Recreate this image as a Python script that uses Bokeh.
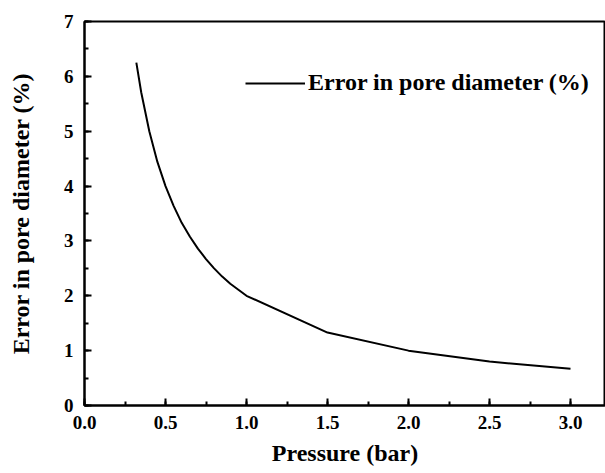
from bokeh.plotting import figure
from bokeh.models import SingleIntervalTicker, Range1d, Legend, LegendItem, ColumnDataSource, CustomJSTickFormatter
from bokeh.embed import file_html
from bokeh.resources import INLINE

pressure = [0.32, 0.35, 0.4, 0.45, 0.5, 0.55, 0.6, 0.65, 0.7, 0.75, 0.8, 0.85, 0.9, 0.95, 1.0,
            1.5, 2.0, 2.5, 3.0]
error_pct = [6.25, 5.71, 5.0, 4.44, 4.0, 3.64, 3.33, 3.08, 2.86, 2.67, 2.5, 2.35, 2.22, 2.11, 2.0,
             1.33, 1.0, 0.8, 0.67]
series_name = "Error in pore diameter (%)"
x_label = "Pressure (bar)"
y_label = "Error in pore diameter (%)"

FONT = "Liberation Serif"

p = figure(width=605, height=473, output_backend="svg", toolbar_location=None,
           x_range=Range1d(0, 3.216), y_range=Range1d(0, 7),
           min_border_left=84, min_border_top=21, min_border_bottom=68, min_border_right=0)
p.background_fill_color = "white"
p.border_fill_color = "white"
p.xgrid.visible = False
p.ygrid.visible = False
p.outline_line_color = "black"
p.outline_line_width = 2

src = ColumnDataSource(dict(x=pressure, y=error_pct))
r = p.line("x", "y", source=src, line_color="black", line_width=2, line_join="round")

p.xaxis.ticker = SingleIntervalTicker(interval=0.5, num_minor_ticks=2)
p.yaxis.ticker = SingleIntervalTicker(interval=1, num_minor_ticks=2)
p.xaxis.formatter = CustomJSTickFormatter(code="return tick.toFixed(1);")
p.yaxis.formatter = CustomJSTickFormatter(code="return tick.toFixed(0);")

for ax in (p.xaxis[0], p.yaxis[0]):
    ax.axis_line_width = 2
    ax.axis_line_color = "black"
    ax.major_tick_in = 7
    ax.major_tick_out = 0
    ax.minor_tick_in = 4
    ax.minor_tick_out = 0
    ax.major_tick_line_width = 2
    ax.minor_tick_line_width = 2
    ax.major_label_text_font = FONT
    ax.major_label_text_font_style = "bold"
    ax.major_label_text_font_size = "19px"
    ax.major_label_text_color = "black"
    ax.axis_label_text_font = FONT
    ax.axis_label_text_font_style = "bold"
    ax.axis_label_text_font_size = "24px"
    ax.axis_label_text_color = "black"

p.xaxis.axis_label = x_label
p.yaxis.axis_label = y_label
p.xaxis.major_label_standoff = 10
p.yaxis.major_label_standoff = 11
p.xaxis.axis_label_standoff = 8
p.yaxis.axis_label_standoff = 27

legend = Legend(items=[LegendItem(label=series_name, renderers=[r])],
                location=(161, 309), padding=0, margin=0,
                border_line_color=None, background_fill_alpha=0,
                glyph_width=60, label_standoff=3,
                label_text_font=FONT, label_text_font_style="bold",
                label_text_font_size="24px", label_text_color="black")
p.add_layout(legend)

open("out.html", "w").write(file_html(p, INLINE))
